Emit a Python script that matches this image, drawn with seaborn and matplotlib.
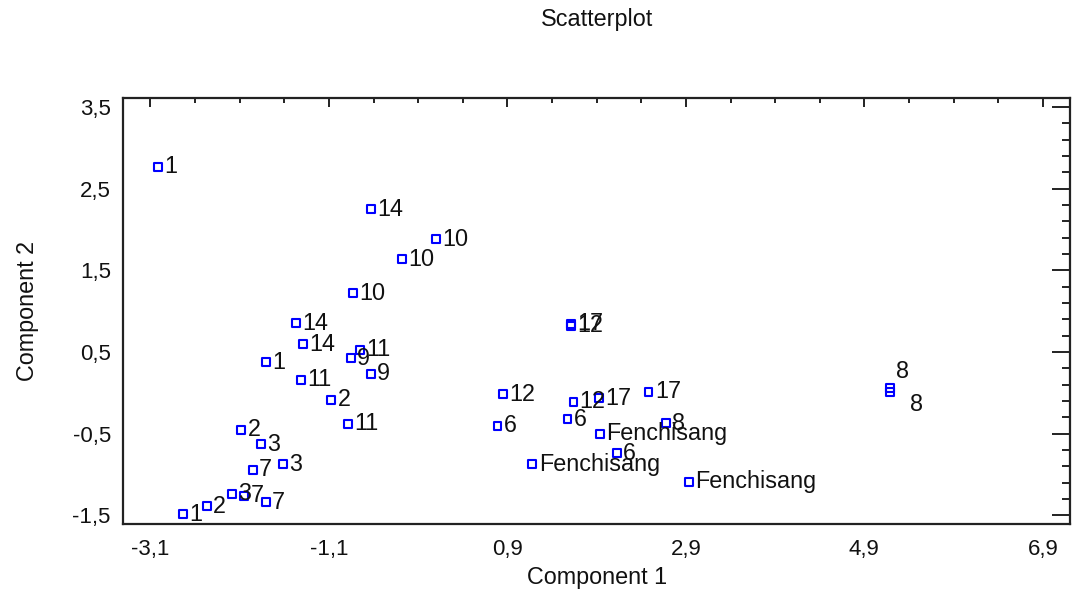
import matplotlib
matplotlib.use("Agg")
import matplotlib.pyplot as plt
import seaborn as sns
import pandas as pd
from matplotlib.ticker import FixedLocator, FuncFormatter, MultipleLocator

# ---------------- data ----------------
labels = ["1", "14", "10", "10", "10", "14", "14", "1", "9", "11", "9", "11",
          "2", "11", "2", "3", "7", "3", "3", "7", "7", "2", "1",
          "17", "12", "12", "12", "17", "17", "6", "6", "8", "Fenchisang",
          "6", "Fenchisang", "Fenchisang", "8", "8"]
comp1 = [-3.013, -0.631, 0.097, -0.284, -0.826, -1.472, -1.394, -1.809, -0.852, -0.751,
         -0.631, -1.413, -1.073, -0.889, -2.082, -1.865, -1.954, -1.611, -2.190, -2.052,
         -1.809, -2.470, -2.732,
         1.611, 1.611, 0.855, 1.640, 1.928, 2.481, 0.788, 1.573, 2.676, 1.939,
         2.126, 1.180, 2.937, 5.190, 5.190]
comp2 = [2.769, 2.248, 1.884, 1.636, 1.220, 0.853, 0.599, 0.379, 0.428, 0.526,
         0.236, 0.159, -0.086, -0.380, -0.453, -0.625, -0.943, -0.870, -1.237, -1.261,
         -1.335, -1.384, -1.482,
         0.845, 0.820, -0.013, -0.107, -0.066, 0.015, -0.401, -0.323, -0.371, -0.502,
         -0.739, -0.870, -1.086, 0.061, 0.012]
x_ticks = [-3.1, -1.1, 0.9, 2.9, 4.9, 6.9]
y_ticks = [-1.5, -0.5, 0.5, 1.5, 2.5, 3.5]

df = pd.DataFrame({"Component 1": comp1, "Component 2": comp2, "label": labels})

# ---------------- style ----------------
sns.set_style("white")
plt.rcParams["font.family"] = ["Liberation Sans", "DejaVu Sans"]
TXT = "#111111"

fig = plt.figure(figsize=(10.72, 5.97), dpi=100)
ax = fig.add_axes([0.115, 0.1215, 0.883, 0.7150])

sns.scatterplot(data=df, x="Component 1", y="Component 2", ax=ax,
                marker="s", s=32, facecolor="none", edgecolor="#0000ff",
                linewidth=1.5, zorder=3, legend=False)

# label offsets in points (special ones for overlapping "8" pair)
special = {36: (4, 12), 37: (14, -9)}
for i, (xv, yv, lab) in enumerate(zip(comp1, comp2, labels)):
    off = special.get(i, (4.5, 0))
    ax.annotate(lab, (xv, yv), xytext=off, textcoords="offset points",
                ha="left", va="center", fontsize=16.8, color=TXT, zorder=4)

ax.set_xlim(-3.405, 7.203)
ax.set_ylim(-1.61, 3.616)

fmt = FuncFormatter(lambda v, p: f"{v:.1f}".replace(".", ","))
ax.xaxis.set_major_locator(FixedLocator(x_ticks))
ax.yaxis.set_major_locator(FixedLocator(y_ticks))
ax.xaxis.set_major_formatter(fmt)
ax.yaxis.set_major_formatter(fmt)
ax.xaxis.set_minor_locator(MultipleLocator(0.5, offset=-3.1))
ax.yaxis.set_minor_locator(MultipleLocator(0.2, offset=0.1))

ax.tick_params(axis="both", which="both", direction="in", top=True, right=True,
               color="#222222", width=1.4, labelsize=16, labelcolor=TXT)
ax.tick_params(axis="x", which="major", length=6.5, pad=10.5)
ax.tick_params(axis="x", which="minor", length=3.5)
ax.tick_params(axis="y", which="major", length=13, pad=9)
ax.tick_params(axis="y", which="minor", length=5.5)

for sp in ax.spines.values():
    sp.set_visible(True)
    sp.set_color("#222222")
    sp.set_linewidth(1.6)

ax.set_xlabel("")
ax.set_ylabel("")
fig.text(0.5565, 0.032, "Component 1", ha="center", va="center", fontsize=16.8, color=TXT)
fig.text(0.026, 0.479, "Component 2", ha="center", va="center", rotation=90,
         fontsize=16.8, color=TXT)
fig.text(0.5565, 0.968, "Scatterplot", ha="center", va="center", fontsize=16.8, color=TXT)

fig.savefig("out.png", dpi=100)
